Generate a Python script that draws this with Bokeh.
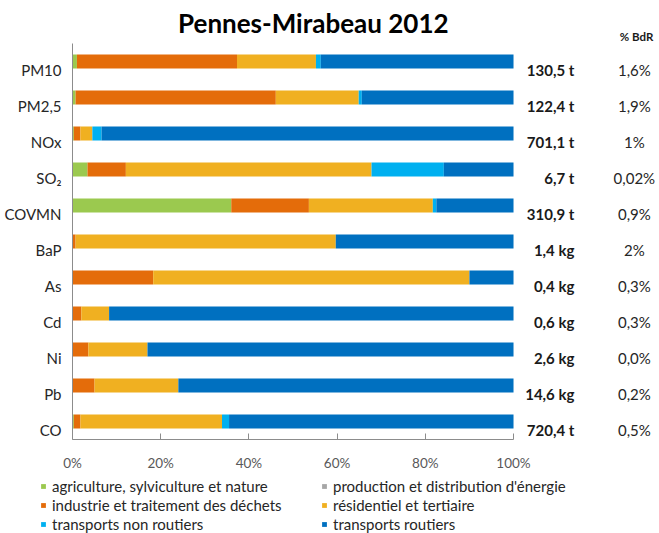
from bokeh.plotting import figure
from bokeh.layouts import column
from bokeh.core.properties import value
from bokeh.models import (ColumnDataSource, Range1d, FixedTicker, Legend, LegendItem,
                          LabelSet, Label)
from bokeh.embed import file_html
from bokeh.resources import INLINE

FONT = "Lato"

categories = ["PM10", "PM2,5", "NOx", "SO₂", "COVMN", "BaP", "As", "Cd", "Ni", "Pb", "CO"]
series_names = ["agriculture, sylviculture et nature", "production et distribution d'énergie",
                "industrie et traitement des déchets", "résidentiel et tertiaire",
                "transports non routiers", "transports routiers"]
colors = ["#9BC94F", "#A6A6A6", "#E46C0A", "#F0B021", "#00B0F0", "#0070C0"]

agriculture = [1.0, 0.7, 0.3, 3.4, 36.0, 0.0, 0.0, 0.0, 0.0, 0.0, 0.3]
production = [0.0, 0.0, 0.0, 0.0, 0.0, 0.0, 0.0, 0.0, 0.0, 0.0, 0.0]
industrie = [36.3, 45.4, 1.5, 8.7, 17.6, 0.7, 18.3, 2.0, 3.6, 5.0, 1.5]
residentiel = [17.9, 18.8, 2.7, 55.7, 28.1, 59.0, 71.7, 6.3, 13.4, 19.0, 32.1]
transports_nr = [1.1, 0.7, 2.1, 16.4, 0.8, 0.0, 0.0, 0.0, 0.0, 0.0, 1.6]
transports_r = [43.7, 34.4, 93.4, 15.8, 17.5, 40.3, 10.0, 91.7, 83.0, 76.0, 64.5]

totals = ["130,5 t", "122,4 t", "701,1 t", "6,7 t", "310,9 t", "1,4 kg", "0,4 kg",
          "0,6 kg", "2,6 kg", "14,6 kg", "720,4 t"]
bdr = ["1,6%", "1,9%", "1%", "0,02%", "0,9%", "2%", "0,3%", "0,3%", "0,0%", "0,2%", "0,5%"]

x_ticks = [0, 20, 40, 60, 80, 100]

n = len(categories)
ys = [n - 1 - i for i in range(n)]
label_ys = [y - 0.24 for y in ys]
keys = ["s0", "s1", "s2", "s3", "s4", "s5"]
data = dict(y=ys, ly=label_ys, totals=totals, bdr=bdr,
            tx=[113.8] * n, bx=[127.4] * n)
for k, s in zip(keys, [agriculture, production, industrie, residentiel, transports_nr, transports_r]):
    data[k] = s
src = ColumnDataSource(data)

p = figure(width=659, height=478, output_backend="svg", toolbar_location=None, title=None,
           x_range=Range1d(0, 133.1), y_range=Range1d(-0.5, 11.694),
           min_border_left=72, min_border_right=0, min_border_top=0, min_border_bottom=39)
p.outline_line_color = None
p.xgrid.visible = False
p.ygrid.visible = False

rs = p.hbar_stack(keys, y="y", height=0.39, color=colors, line_color=None, source=src)

# axes
p.xaxis.bounds = (0, 100)
p.xaxis.ticker = FixedTicker(ticks=x_ticks)
p.xaxis.major_label_overrides = {t: f"{t}%" for t in x_ticks}
p.xaxis.axis_line_color = "#8C8C8C"
p.xaxis.major_tick_line_color = "#8C8C8C"
p.xaxis.major_tick_out = 0
p.xaxis.major_tick_in = 6
p.xaxis.minor_tick_line_color = None
p.xaxis.major_label_text_font = FONT
p.xaxis.major_label_text_font_size = "13.5px"
p.xaxis.major_label_text_color = "#595959"
p.xaxis.major_label_standoff = 15

p.yaxis.bounds = (-0.5, 10.5)
p.yaxis.ticker = FixedTicker(ticks=label_ys)
p.yaxis.major_label_overrides = {ly: c for ly, c in zip(label_ys, categories)}
p.yaxis.axis_line_color = "#8C8C8C"
p.yaxis.major_tick_line_color = None
p.yaxis.minor_tick_line_color = None
p.yaxis.major_label_text_font = FONT
p.yaxis.major_label_text_font_size = "15px"
p.yaxis.major_label_text_color = "#262626"
p.yaxis.major_label_standoff = 5

# right columns
p.add_layout(LabelSet(x="tx", y="ly", text="totals", source=src, text_align="right",
                      text_baseline="middle", text_font=value(FONT), text_font_style="bold",
                      text_font_size="15px", text_color="#1a1a1a"))
p.add_layout(LabelSet(x="bx", y="ly", text="bdr", source=src, text_align="center",
                      text_baseline="middle", text_font=value(FONT),
                      text_font_size="15px", text_color="#262626"))
p.add_layout(Label(x=127.9, y=10.69, text="% BdR", text_align="center", text_baseline="middle",
                   text_font=FONT, text_font_style="bold", text_font_size="11.5px",
                   text_color="#1a1a1a"))
p.add_layout(Label(x=54.6, y=11.06, text="Pennes-Mirabeau 2012", text_align="center",
                   text_baseline="middle", text_font=FONT, text_font_style="bold",
                   text_font_size="26px", text_color="#000000"))

# legend in a separate strip below (bars of this strip lie outside its visible ranges)
pl = figure(width=659, height=55, output_backend="svg", toolbar_location=None, title=None,
            x_range=Range1d(-1000, -999), y_range=Range1d(-1000, -999),
            x_axis_type=None, y_axis_type=None,
            min_border_left=0, min_border_right=0, min_border_top=0, min_border_bottom=0)
pl.outline_line_color = None
pl.xgrid.visible = False
pl.ygrid.visible = False
for fig in (p, pl):
    if "frame_align" in fig.properties():
        fig.frame_align = False
leg_renderers = pl.hbar_stack(keys, y="y", height=0.39, color=colors, line_color=None, source=src)
items = [LegendItem(label=series_names[i], renderers=[leg_renderers[i]]) for i in range(6)]
lg = Legend(items=items, location=(40, 0), orientation="horizontal", ncols=2,
            label_text_font=FONT, label_text_font_size="15px", label_text_color="#262626",
            glyph_width=6, glyph_height=6, label_standoff=6, label_height=17, label_width=268,
            spacing=1, padding=0, margin=0, border_line_color=None,
            background_fill_alpha=0)
pl.add_layout(lg, "center")

layout = column(p, pl, spacing=0)
open("out.html", "w").write(file_html(layout, INLINE))
